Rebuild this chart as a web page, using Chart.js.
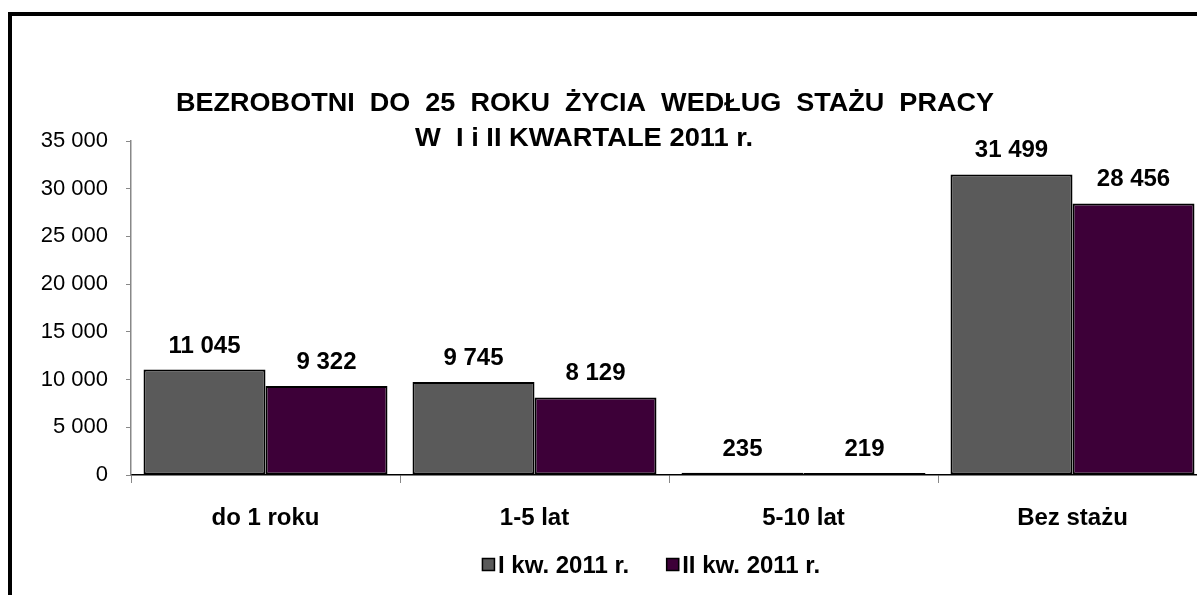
<!DOCTYPE html>
<html>
<head>
<meta charset="utf-8">
<script src="https://cdn.jsdelivr.net/npm/chart.js@4"></script>
<style>
  html, body { margin: 0; padding: 0; background: #fff; overflow: hidden; }
  #frame {
    position: absolute; left: 8px; top: 12px;
    width: 1300px; height: 700px;
    border: 4px solid #000; box-sizing: border-box;
  }
  #wrap { position: absolute; left: 0; top: 0; width: 1220px; height: 595px; }
</style>
</head>
<body>
<div id="frame"></div>
<div id="wrap"><canvas id="chart" width="1220" height="595"></canvas></div>
<script>
// dane wykresu
const categories = ['do 1 roku', '1-5 lat', '5-10 lat', 'Bez stażu'];
const seriesLabels = ['I kw. 2011 r.', 'II kw. 2011 r.'];
const q1Values = [11045, 9745, 235, 31499];
const q2Values = [9322, 8129, 219, 28456];
const seriesColors = ['#5a5a5a', '#3d0038'];
const titleLines = ['BEZROBOTNI  DO  25  ROKU  ŻYCIA  WEDŁUG  STAŻU  PRACY', 'W  I i II KWARTALE 2011 r.'];
const yMax = 35000;
const yStep = 5000;

const FONT = 'Arial, "Liberation Sans", sans-serif';

function fmt(v) {
  return String(v).replace(/\B(?=(\d{3})+(?!\d))/g, ' ');
}

// tekst rozciągnięty poziomo do zadanej szerokości (tytuł jest szerszy niż zwykły Arial)
function stretchedText(ctx, text, cx, y, width) {
  const w = ctx.measureText(text).width;
  ctx.save();
  ctx.translate(cx, y);
  ctx.scale(width / w, 1);
  ctx.fillText(text, 0, 0);
  ctx.restore();
}

// tytuł, etykiety danych i legenda rysowane ręcznie
const extrasPlugin = {
  id: 'extras',
  afterDatasetsDraw(chart) {
    const ctx = chart.ctx;
    ctx.save();
    ctx.fillStyle = '#000';
    ctx.font = 'bold 24px ' + FONT;
    ctx.textAlign = 'center';
    ctx.textBaseline = 'alphabetic';
    chart.data.datasets.forEach((ds, i) => {
      chart.getDatasetMeta(i).data.forEach((bar, j) => {
        ctx.fillText(fmt(ds.data[j]), bar.x, bar.y - 17);
      });
    });
    ctx.restore();
  },
  afterDraw(chart) {
    const ctx = chart.ctx;
    ctx.save();
    ctx.fillStyle = '#000';
    ctx.textAlign = 'center';
    ctx.textBaseline = 'alphabetic';
    ctx.font = 'bold 25px ' + FONT;
    stretchedText(ctx, titleLines[0], 585, 111, 818);
    stretchedText(ctx, titleLines[1], 584, 146, 338);

    // legenda
    ctx.font = 'bold 24px ' + FONT;
    ctx.textAlign = 'left';
    const box = 13, gap = 3, itemGap = 37;
    const widths = seriesLabels.map(t => ctx.measureText(t).width);
    const total = widths.reduce((a, w) => a + box + gap + w, 0) + itemGap;
    let x = 651 - total / 2;
    seriesLabels.forEach((t, i) => {
      ctx.fillStyle = seriesColors[i];
      ctx.fillRect(x, 558, box, box);
      ctx.strokeStyle = '#000';
      ctx.lineWidth = 1.5;
      ctx.strokeRect(x + 0.5, 558.5, box - 1, box - 1);
      ctx.fillStyle = '#000';
      ctx.fillText(t, x + box + gap, 573);
      x += box + gap + widths[i] + itemGap;
    });
    ctx.restore();
  }
};

new Chart(document.getElementById('chart'), {
  type: 'bar',
  data: {
    labels: categories,
    datasets: [
      { label: seriesLabels[0], data: q1Values, backgroundColor: seriesColors[0] },
      { label: seriesLabels[1], data: q2Values, backgroundColor: seriesColors[1] }
    ]
  },
  options: {
    responsive: false,
    animation: false,
    events: [],
    datasets: {
      bar: {
        categoryPercentage: 0.907,
        barPercentage: 1,
        borderColor: '#000',
        borderWidth: 2,
        borderSkipped: false
      }
    },
    layout: { padding: { left: 0, top: 141, right: 13, bottom: 70 } },
    plugins: {
      legend: { display: false },
      title: { display: false },
      tooltip: { enabled: false }
    },
    scales: {
      x: {
        grid: { drawOnChartArea: false, drawTicks: true, tickLength: 8, color: '#888', offset: true },
        border: { display: true, color: '#000', width: 1.5 },
        ticks: { color: '#000', font: { family: FONT, size: 24, weight: 'bold' }, padding: 21 },
        afterFit(scale) { scale.height = 50; }
      },
      y: {
        min: 0,
        max: yMax,
        grid: { drawOnChartArea: false, drawTicks: true, tickLength: 5, color: '#888' },
        border: { display: true, color: '#888', width: 1.5 },
        ticks: {
          stepSize: yStep,
          color: '#000',
          font: { family: FONT, size: 22 },
          padding: 18,
          callback: v => fmt(v)
        },
        afterFit(scale) { scale.width = 131; }
      }
    }
  },
  plugins: [extrasPlugin]
});
</script>
</body>
</html>
